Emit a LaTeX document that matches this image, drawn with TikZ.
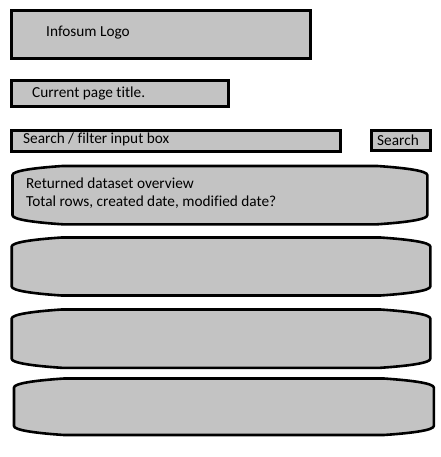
\documentclass[tikz,border=0pt]{standalone}
\usepackage{fontspec}
\setmainfont{Carlito}[Ligatures=NoCommon]
\definecolor{panelgray}{RGB}{195,195,195}
\begin{document}
\begin{tikzpicture}[x=1bp, y=-1bp, font=\fontsize{15.3bp}{18bp}\selectfont,
    box/.style={draw=black, fill=panelgray, line width=3bp},
    panel/.style={draw=black, fill=panelgray, line width=2.6bp, line join=round},
    lbl/.style={anchor=base west, inner sep=0pt}]
        % Page size
        \useasboundingbox (0,0) rectangle (441,457);

        % Header boxes
        \draw[box] (11,11) rectangle (310,58.7);
        \node[lbl] (logo) at (46,36.5) {Infosum Logo};

        \draw[box] (11,80.7) rectangle (228.7,106.3);
        \node[lbl] (title) at (32,98) {Current page title.};

        % Search row
        \draw[box] (11,131) rectangle (340,151.8);
        \node[lbl] (filter) at (23,144) {Search / filter input box};

        \draw[box] (371,130.3) rectangle (430,151);
        \node[lbl] (search) at (377,146) {Search};

        % Dataset panels (left/top/right/bottom)
        \foreach \l/\t/\r/\b in {12.5/166/427.3/224.3, 11.7/237.5/430.3/295.5,
                                 11.7/309.5/430.3/367.8, 14/378.5/433.8/435} {
            \draw[panel] (\l,\t+9) .. controls (\l,\t+5) and (\l+20,\t+2) .. (\l+50,\t)
                -- (\r-50,\t) .. controls (\r-20,\t+2) and (\r,\t+5) .. (\r,\t+9)
                -- (\r,\b-9) .. controls (\r,\b-5) and (\r-20,\b-2) .. (\r-50,\b)
                -- (\l+50,\b) .. controls (\l+20,\b-2) and (\l,\b-5) .. (\l,\b-9) -- cycle;
        }
        \node[lbl] (overview) at (26,188.5) {Returned dataset overview};
        \node[lbl] (details) at (26,206.5) {Total rows, created date, modified date?};

      \end{tikzpicture}
\end{document}
